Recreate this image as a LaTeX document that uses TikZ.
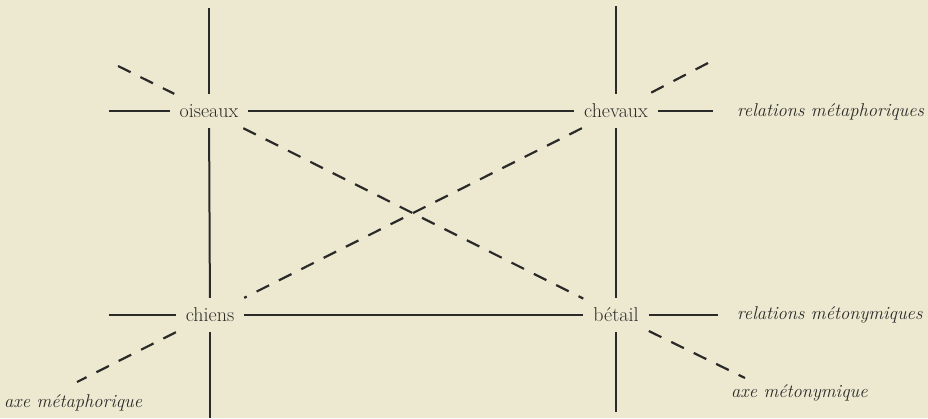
\documentclass[tikz,border=0pt]{standalone}
\usepackage{fontspec}
\begin{document}
\begin{tikzpicture}[x=1pt,y=-1pt,
  word/.style={draw=none,inner xsep=10pt,inner ysep=0pt,minimum height=34pt,text=ink,font=\fontsize{20}{24}\selectfont},
  lab/.style={anchor=west,inner sep=0pt,text=ink,font=\fontsize{18.5}{22}\selectfont\itshape},
  solid line/.style={draw=ink,line width=2pt},
  dash line/.style={draw=ink,line width=2.2pt,dash pattern=on 14pt off 11pt}]
\definecolor{paper}{RGB}{237,233,209}
\definecolor{ink}{RGB}{42,42,40}
\fill[paper] (0,0) rectangle (928,418);
\useasboundingbox (0,0) rectangle (928,418);
% words
\node[word] (ois) at (209,111) {oiseaux};
\node[word] (che) at (616,111) {chevaux};
\node[word] (chi) at (210,315) {chiens};
\node[word] (bet) at (616,315) {bétail};
% labels
\node[lab] (rmeta) at (737,112) {relations métaphoriques};
\node[lab] (rmeto) at (737,315) {relations métonymiques};
\node[lab] (ameta) at (4,403) {axe métaphorique};
\node[lab] (ameto) at (731,393) {axe métonymique};
% free ends
\coordinate (lt) at (209,8);
\coordinate (lb) at (210,418);
\coordinate (rt) at (616,6);
\coordinate (rb) at (616,412);
\coordinate (tl) at (109,111);
\coordinate (tr) at (713,111);
\coordinate (bl) at (109,315);
\coordinate (br) at (718,315);
\coordinate (dtl) at (118,66);
\coordinate (dbr) at (745,378);
\coordinate (dtr) at (708,63);
\coordinate (dbl) at (77,382);
% solid lines
\draw[solid line] (lt) -- (ois);
\draw[solid line] (ois) -- (chi);
\draw[solid line] (chi) -- (lb);
\draw[solid line] (rt) -- (che);
\draw[solid line] (che) -- (bet);
\draw[solid line] (bet) -- (rb);
\draw[solid line] (tl) -- (ois);
\draw[solid line] (ois) -- (che);
\draw[solid line] (che) -- (tr);
\draw[solid line] (bl) -- (chi);
\draw[solid line] (chi) -- (bet);
\draw[solid line] (bet) -- (br);
% dashed axes
\draw[dash line] (dtl) -- (ois);
\draw[dash line] (ois) -- (bet);
\draw[dash line] (bet) -- (dbr);
\draw[dash line] (dtr) -- (che);
\draw[dash line] (che) -- (chi);
\draw[dash line] (chi) -- (dbl);
\end{tikzpicture}
\end{document}
